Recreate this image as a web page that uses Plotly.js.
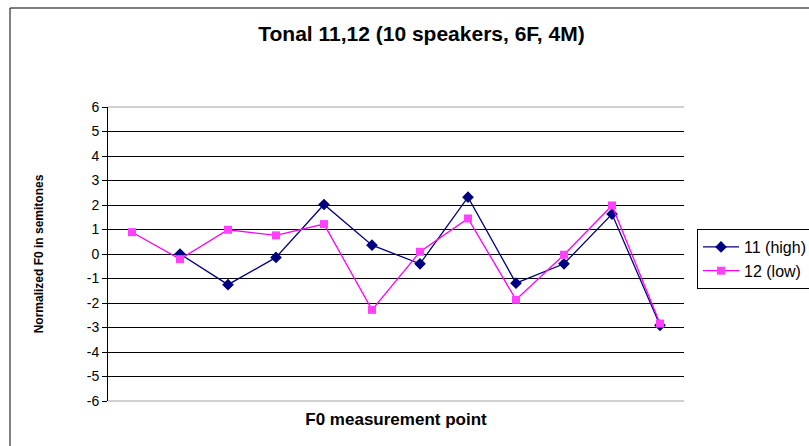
<!DOCTYPE html>
<html>
<head>
<meta charset="utf-8">
<script src="https://cdn.plot.ly/plotly-3.0.1.min.js"></script>
<style>html,body{margin:0;padding:0;background:#fff;}#chart{width:809px;height:446px;}</style>
</head>
<body>
<div id="chart"></div>
<script>
const categories = ["1","2","3","4","5","6","7","8","9","10","11","12"];
const highValues = [null, 0.0, -1.25, -0.14, 2.02, 0.36, -0.40, 2.32, -1.19, -0.40, 1.63, -2.91];
const lowValues  = [0.89, -0.21, 0.99, 0.76, 1.22, -2.28, 0.09, 1.45, -1.87, -0.03, 1.98, -2.84];
const yTicks = [-6,-5,-4,-3,-2,-1,0,1,2,3,4,5,6];
const seriesNames = ["11 (high)", "12 (low)"];

const W = 809, H = 446, L = 108, R = 125, T = 107, B = 45;
const pw = W - L - R, ph = H - T - B;
const px = p => (p - L) / pw;
const py = p => (H - B - p) / ph;

const traces = [
  {x: categories, y: highValues, name: seriesNames[0], type: 'scatter', mode: 'lines+markers',
   line: {color: '#000080', width: 1.3}, marker: {symbol: 'diamond', size: 9, color: '#000080'}, connectgaps: false},
  {x: categories, y: lowValues, name: seriesNames[1], type: 'scatter', mode: 'lines+markers',
   line: {color: '#ff00ff', width: 1.3}, marker: {symbol: 'square', size: 8, color: '#ff40ff'}}
];

const layout = {
  width: W, height: H,
  margin: {l: L, r: R, t: T, b: B, pad: 0},
  paper_bgcolor: '#ffffff', plot_bgcolor: '#ffffff',
  font: {family: 'Liberation Sans, Arial, sans-serif', color: '#000'},
  title: {text: '<b>Tonal 11,12 (10 speakers, 6F, 4M)</b>', font: {size: 21, color: '#000'},
          x: 0.521, xanchor: 'center', y: 1 - 34/H, yanchor: 'middle', xref: 'container', yref: 'container'},
  xaxis: {type: 'category', range: [-0.5, 11.5], showticklabels: false, showgrid: false, zeroline: false,
          showline: false, ticks: '', fixedrange: true,
          title: {text: '<b>F0 measurement point</b>', font: {size: 17}, standoff: 12}},
  yaxis: {range: [-6, 6], tickvals: yTicks, ticktext: yTicks.map(String), showgrid: true, gridcolor: '#000', gridwidth: 1,
          zeroline: false, showline: true, linecolor: '#000', linewidth: 1, ticks: 'outside', ticklen: 5,
          tickcolor: '#000', tickfont: {size: 14, color: '#000'}, fixedrange: true,
          title: {text: '<b>Normalized F0 in semitones</b>', font: {size: 12}, standoff: 40}},
  showlegend: true,
  legend: {xref: 'container', yref: 'container', x: 697 / W, y: 1 - 229 / H, xanchor: 'left', yanchor: 'top',
           bordercolor: '#000', borderwidth: 1, bgcolor: '#fff', font: {size: 16, color: '#000'},
           tracegroupgap: 0, itemwidth: 36},
  shapes: [
    {type: 'rect', xref: 'paper', yref: 'paper', x0: px(10), x1: px(830), y0: py(470), y1: py(8),
     line: {color: '#000', width: 1}, fillcolor: 'rgba(0,0,0,0)', layer: 'below'},
    {type: 'line', xref: 'paper', yref: 'paper', x0: 0, x1: 1, y0: 1, y1: 1, line: {color: '#c0c0c0', width: 1.5}, layer: 'above'},
    {type: 'line', xref: 'paper', yref: 'paper', x0: 0, x1: 1, y0: 0, y1: 0, line: {color: '#c0c0c0', width: 1.5}, layer: 'above'}
  ]
};

Plotly.newPlot('chart', traces, layout, {displayModeBar: false, staticPlot: true});
</script>
</body>
</html>
